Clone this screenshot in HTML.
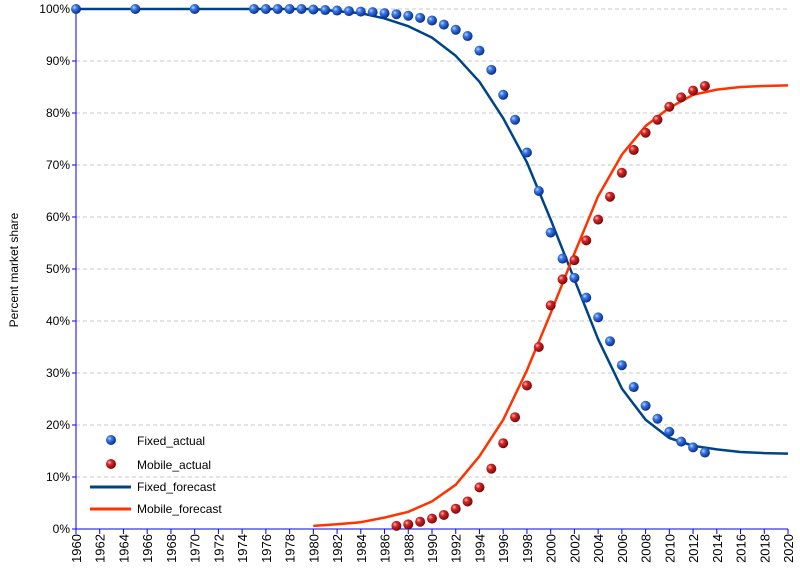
<!DOCTYPE html>
<html><head><meta charset="utf-8"><style>
body{margin:0;background:#fff;font-family:"Liberation Sans",sans-serif}
svg text{font-family:"Liberation Sans",sans-serif;font-size:12px;fill:#000}
</style></head><body>
<svg id="chart" width="800" height="574" xmlns="http://www.w3.org/2000/svg">
<defs>
<radialGradient id="gb" cx="35%" cy="35%" r="65%"><stop offset="0" stop-color="#bcd6ff"/><stop offset="0.35" stop-color="#3a78e8"/><stop offset="1" stop-color="#0a2f8a"/></radialGradient>
<radialGradient id="gr" cx="35%" cy="35%" r="65%"><stop offset="0" stop-color="#ffc0c0"/><stop offset="0.35" stop-color="#d82828"/><stop offset="1" stop-color="#7a0808"/></radialGradient>
</defs>
<g id="grid"></g>
<g id="axes"></g>
<g id="series"></g>
<text transform="translate(18,270) rotate(-90)" text-anchor="middle">Percent market share</text>
<g>
 <g><circle cx="111" cy="440" r="5" fill="url(#gb)"/><text x="137" y="445">Fixed_actual</text></g>
 <g><circle cx="111" cy="464" r="5" fill="url(#gr)"/><text x="137" y="469">Mobile_actual</text></g>
 <g><line x1="90" y1="487" x2="131" y2="487" stroke="#004488" stroke-width="3"/><text x="137" y="491">Fixed_forecast</text></g>
 <g><line x1="90" y1="509" x2="131" y2="509" stroke="#ff3300" stroke-width="3"/><text x="137" y="513">Mobile_forecast</text></g>
</g>
</svg>
<script>
const fixedActualYears=[1960,1965,1970,1975,1976,1977,1978,1979,1980,1981,1982,1983,1984,1985,1986,1987,1988,1989,1990,1991,1992,1993,1994,1995,1996,1997,1998,1999,2000,2001,2002,2003,2004,2005,2006,2007,2008,2009,2010,2011,2012,2013];
const fixedActual=[100,100,100,100,100,100,100,100,99.9,99.8,99.7,99.6,99.5,99.4,99.2,99.0,98.7,98.3,97.8,97.0,96.0,94.8,92.0,88.3,83.5,78.7,72.4,65.0,57.0,52.0,48.3,44.5,40.7,36.1,31.5,27.3,23.7,21.2,18.7,16.8,15.7,14.7];
const mobileActualYears=[1987,1988,1989,1990,1991,1992,1993,1994,1995,1996,1997,1998,1999,2000,2001,2002,2003,2004,2005,2006,2007,2008,2009,2010,2011,2012,2013];
const mobileActual=[0.6,0.9,1.4,2.0,2.7,3.9,5.3,8.0,11.6,16.5,21.5,27.6,35.0,43.0,48.0,51.7,55.5,59.5,63.9,68.5,72.9,76.2,78.7,81.2,83.0,84.3,85.2];
const fixedForecastYears=[1960,1980,1982,1984,1986,1988,1990,1992,1994,1996,1998,2000,2002,2004,2006,2008,2010,2012,2014,2016,2018,2020];
const fixedForecast=[100,100,99.6,99.2,98.2,96.7,94.5,91.0,86.0,79.0,70.5,59.5,48.0,36.5,27.0,21.0,17.5,16.0,15.3,14.8,14.6,14.5];
const mobileForecastYears=[1980,1982,1984,1986,1988,1990,1992,1994,1996,1998,2000,2002,2004,2006,2008,2010,2012,2014,2016,2018,2020];
const mobileForecast=[0.6,0.9,1.3,2.2,3.3,5.3,8.5,14.0,21.0,30.5,41.5,53.0,64.0,72.0,77.5,81.0,83.5,84.5,85.0,85.2,85.3];
const yTicks=[0,10,20,30,40,50,60,70,80,90,100];

const NS="http://www.w3.org/2000/svg";
const X0=76,X1=788,Y0=529,Y1=9;
const xs=y=>X0+(y-1960)*(X1-X0)/60;
const ys=v=>Y0-v*(Y0-Y1)/100;
function mk(tag,attrs,parent){const e=document.createElementNS(NS,tag);for(const k in attrs)e.setAttribute(k,attrs[k]);parent.appendChild(e);return e;}
const grid=document.getElementById('grid'),axes=document.getElementById('axes'),ser=document.getElementById('series');
yTicks.forEach(t=>{
 if(t>0){const g=mk('line',{x1:X0,x2:X1,y1:ys(t),y2:ys(t),stroke:'#c8c8c8','stroke-dasharray':'4,3'},grid);
 
 }
 mk('line',{x1:X0-4,x2:X0,y1:ys(t),y2:ys(t),stroke:'#0000ff'},axes);
 const tx=mk('text',{x:X0-6,y:ys(t)+4,'text-anchor':'end'},axes);tx.textContent=t+'%';
 
 
});
for(let y=1960;y<=2020;y+=2){
 mk('line',{x1:xs(y),x2:xs(y),y1:Y0,y2:Y0+5,stroke:'#0000ff'},axes);
 const tx=mk('text',{transform:`translate(${xs(y)+5},${Y0+5}) rotate(-90)`,'text-anchor':'end',style:'font-size:13px'},axes);tx.textContent=y;
 
 
}
mk('line',{x1:X0,x2:X0,y1:Y1,y2:Y0,stroke:'#0000ff'},axes);
mk('line',{x1:X0,x2:X1,y1:Y0,y2:Y0,stroke:'#0000ff'},axes);
function line(xsArr,vals,color,name){
 const d=xsArr.map((y,i)=>(i?'L':'M')+xs(y).toFixed(1)+','+ys(vals[i]).toFixed(1)).join('');
 const p=mk('path',{d:d,fill:'none',stroke:color,'stroke-width':2.5,'stroke-linejoin':'round'},ser);
 
 
}
function dots(xsArr,vals,fill,name){
 xsArr.forEach((y,i)=>{const c=mk('circle',{cx:xs(y),cy:ys(vals[i]),r:5,fill:fill},ser);
 
 });
}
line(fixedForecastYears,fixedForecast,'#004488','fixed-forecast-line');
line(mobileForecastYears,mobileForecast,'#ff3300','mobile-forecast-line');
dots(fixedActualYears,fixedActual,'url(#gb)','fixed-actual-point');
dots(mobileActualYears,mobileActual,'url(#gr)','mobile-actual-point');
</script>
</body></html>
